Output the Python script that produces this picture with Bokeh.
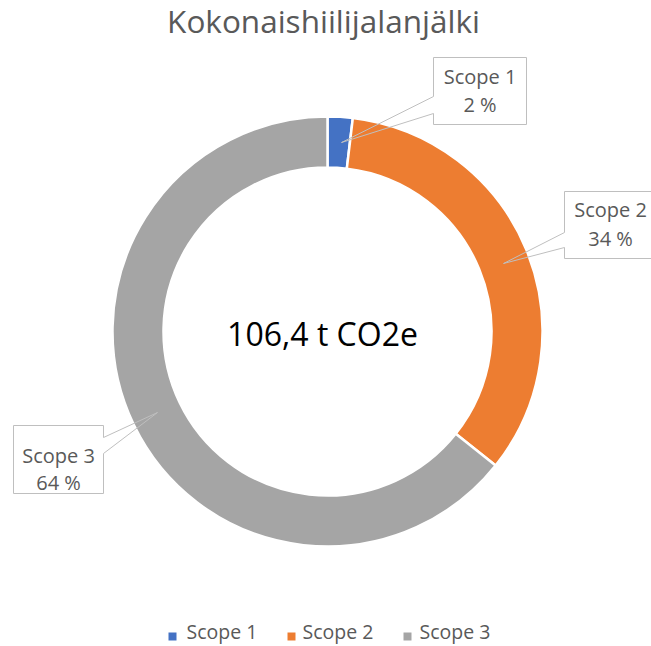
import numpy as np
from bokeh.plotting import figure
from bokeh.models import Range1d, ColumnDataSource
from bokeh.core.properties import value
from bokeh.embed import file_html
from bokeh.resources import INLINE

# ---------------- data ----------------
title_text = "Kokonaishiilijalanjälki"
categories = ["Scope 1", "Scope 2", "Scope 3"]
emissions = [2.0, 36.0, 68.4]          # t CO2e
percent_labels = ["2 %", "34 %", "64 %"]
total_label = "106,4 t CO2e"
colors = ["#4472C4", "#ED7D31", "#A5A5A5"]

# ---------------- layout (page pixels) ----------------
W, H = 651, 646
OFF = 0
CX, CY = 327, 331
R_OUT, R_IN = 215, 164
# callout boxes: left, top, right, bottom, side of pointer, pointer y1, y2, tip x, tip y
callouts = [
    (433, 57, 526, 124, "left", 96, 113, 341, 142),
    (564, 191, 660, 258, "left", 232, 247, 503, 263),
    (13, 425, 103, 493, "right", 437, 453, 157, 412),
]
label_pos = [(479.5, 84, 112), (610, 217, 246), (58, 463, 490)]
legend_sq_x = [172, 291, 407]
legend_tx_x = [186, 302, 419]
legend_y = 639
BASE_SHIFT = 0.42  # em; compensates the renderer's baseline placement

def X(px):
    return px - CX

def Y(py):
    return CY - py

def TY(py, size):
    return Y(py - BASE_SHIFT * size)

p = figure(width=W, height=H,
           x_range=Range1d(X(OFF), X(OFF + W)), y_range=Range1d(Y(OFF + H), Y(OFF)),
           output_backend="svg", toolbar_location=None, min_border=0)
p.axis.visible = False
p.grid.visible = False
p.outline_line_color = None
p.background_fill_color = "white"
p.border_fill_color = "white"

# donut
vals = np.array(emissions, dtype=float)
frac = vals / vals.sum()
cum = np.cumsum(frac)
prev = np.concatenate([[0.0], cum[:-1]])
start = np.pi / 2 - 2 * np.pi * prev
end = np.pi / 2 - 2 * np.pi * cum
src = ColumnDataSource(dict(x=[0] * len(vals), y=[0] * len(vals),
                            start=start, end=end, color=colors, cat=categories))
p.annular_wedge(x="x", y="y", inner_radius=R_IN, outer_radius=R_OUT,
                start_angle="start", end_angle="end", direction="clock",
                fill_color="color", line_color="white", line_width=2.5, source=src)

# center total
p.text(x=[X(322)], y=[TY(346, 32)], text=[total_label], text_font=value("Open Sans"),
       text_font_size=value("32px"), text_color="#000000",
       text_align="center", text_baseline="alphabetic")

# title
p.text(x=[X(323)], y=[TY(33, 31.5)], text=[title_text], text_font=value("Open Sans"),
       text_font_size=value("31.5px"), text_color="#595959",
       text_align="center", text_baseline="alphabetic")

# callouts
xs, ys = [], []
for (l, t, r, b, side, y1, y2, tx, ty) in callouts:
    if side == "left":
        pts = [(l, t), (r, t), (r, b), (l, b), (l, y2), (tx, ty), (l, y1)]
    else:
        pts = [(l, t), (r, t), (r, y1), (tx, ty), (r, y2), (r, b), (l, b)]
    xs.append([X(a) for a, _ in pts])
    ys.append([Y(c) for _, c in pts])
p.patches(xs, ys, fill_color=None, line_color="#BFBFBF", line_width=1)

for cat, pct, (lx, ly1, ly2) in zip(categories, percent_labels, label_pos):
    p.text(x=[X(lx), X(lx)], y=[TY(ly1, 20), TY(ly2, 20)], text=[cat, pct],
           text_font=value("Open Sans"), text_font_size=value("20px"),
           text_color="#595959", text_align="center", text_baseline="alphabetic")

# legend
p.scatter(x=[X(v) for v in legend_sq_x], y=[Y(636)] * 3, marker="square",
          size=8, fill_color=colors, line_color=None)
p.text(x=[X(v) for v in legend_tx_x], y=[TY(legend_y, 19.5)] * 3, text=categories,
       text_font=value("Open Sans"), text_font_size=value("19.5px"),
       text_color="#595959", text_align="left", text_baseline="alphabetic")

open("out.html", "w").write(file_html(p, INLINE))
